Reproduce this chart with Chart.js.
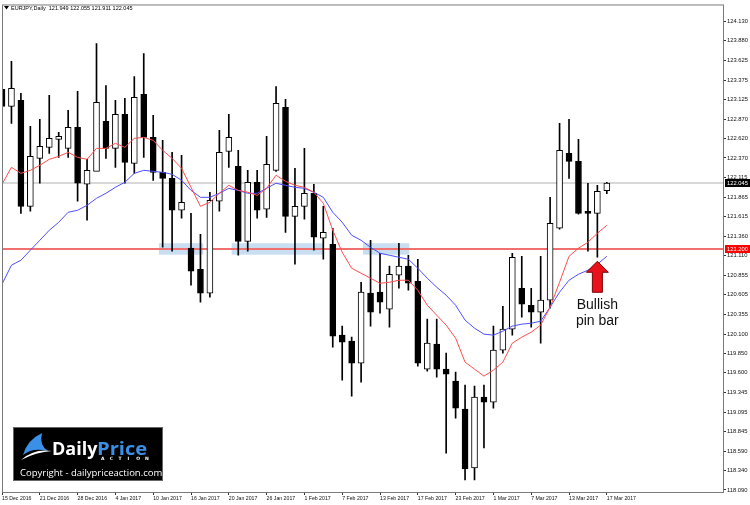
<!DOCTYPE html>
<html>
<head>
<meta charset="utf-8">
<script src="https://cdn.jsdelivr.net/npm/chart.js@4.4.1/dist/chart.umd.min.js"></script>
<style>
  html, body { margin: 0; padding: 0; background: #fff; }
</style>
</head>
<body>
<canvas id="js--chart" width="750" height="505"></canvas>
<script>
// EURJPY daily candles, 15 Dec 2016 - 17 Mar 2017
const dates = [
  "15 Dec 2016", "16 Dec 2016", "19 Dec 2016", "20 Dec 2016", "21 Dec 2016", "22 Dec 2016", "23 Dec 2016",
  "27 Dec 2016", "28 Dec 2016", "29 Dec 2016", "30 Dec 2016",
  "3 Jan 2017", "4 Jan 2017", "5 Jan 2017", "6 Jan 2017", "9 Jan 2017", "10 Jan 2017", "11 Jan 2017",
  "12 Jan 2017", "13 Jan 2017", "16 Jan 2017", "17 Jan 2017", "18 Jan 2017", "19 Jan 2017", "20 Jan 2017",
  "23 Jan 2017", "24 Jan 2017", "25 Jan 2017", "26 Jan 2017", "27 Jan 2017", "30 Jan 2017", "31 Jan 2017",
  "1 Feb 2017", "2 Feb 2017", "3 Feb 2017", "6 Feb 2017", "7 Feb 2017", "8 Feb 2017", "9 Feb 2017",
  "10 Feb 2017", "13 Feb 2017", "14 Feb 2017", "15 Feb 2017", "16 Feb 2017", "17 Feb 2017", "20 Feb 2017",
  "21 Feb 2017", "22 Feb 2017", "23 Feb 2017", "24 Feb 2017", "27 Feb 2017", "28 Feb 2017",
  "1 Mar 2017", "2 Mar 2017", "3 Mar 2017", "6 Mar 2017", "7 Mar 2017", "8 Mar 2017", "9 Mar 2017",
  "10 Mar 2017", "13 Mar 2017", "14 Mar 2017", "15 Mar 2017", "16 Mar 2017", "17 Mar 2017"
];

const opens = [
  123.254, 123.035, 123.112, 121.747, 122.366, 122.507, 122.610, 122.494, 122.765, 122.031,
  122.198, 122.842, 122.494, 122.932, 122.301, 123.190, 122.636, 122.185, 122.108, 121.696,
  121.207, 120.936, 120.627, 121.812, 122.456, 122.263, 121.296, 122.057, 121.709, 122.211,
  123.022, 121.618, 121.747, 121.915, 121.335, 121.258, 120.086, 120.009, 119.725, 120.627,
  120.640, 120.421, 120.859, 120.975, 120.781, 119.648, 119.970, 119.648, 119.493, 119.133,
  118.373, 119.287, 119.223, 119.893, 120.163, 120.691, 120.472, 120.382, 120.537, 121.464,
  122.430, 122.327, 121.683, 121.657, 121.949
];
const highs = [
  124.079, 123.615, 123.203, 122.778, 122.868, 123.177, 122.700, 122.984, 123.228, 122.353,
  123.846, 123.305, 123.112, 123.138, 123.421, 123.717, 122.919, 122.597, 122.443, 122.404,
  121.657, 121.387, 121.928, 122.726, 122.932, 122.469, 122.211, 122.211, 122.649, 123.292,
  123.125, 122.237, 122.494, 122.031, 121.747, 121.464, 120.202, 120.060, 120.768, 121.309,
  121.142, 120.975, 121.271, 121.116, 121.065, 120.292, 120.292, 119.854, 119.609, 119.442,
  119.429, 119.442, 120.202, 120.459, 121.142, 121.103, 120.691, 121.103, 121.863, 122.816,
  122.868, 122.610, 122.044, 122.018, 122.055
];
const lows = [
  122.559, 122.816, 121.657, 121.683, 122.044, 122.430, 122.378, 122.378, 121.812, 121.567,
  122.237, 122.366, 122.250, 122.044, 122.172, 122.378, 122.082, 121.219, 121.168, 121.593,
  120.730, 120.511, 120.575, 121.683, 122.250, 121.116, 121.168, 121.593, 121.605, 122.198,
  121.412, 121.000, 121.580, 121.181, 121.065, 119.931, 119.506, 119.300, 119.481, 120.202,
  120.369, 120.189, 120.691, 120.665, 119.687, 119.622, 119.545, 118.566, 119.017, 118.219,
  118.219, 118.631, 119.146, 119.854, 120.086, 120.318, 120.189, 119.983, 120.434, 121.451,
  122.108, 121.645, 121.168, 121.090, 121.911
];
const closes = [
  123.035, 123.267, 121.747, 122.391, 122.520, 122.623, 122.649, 122.765, 122.044, 122.211,
  123.087, 122.494, 122.932, 122.314, 123.151, 122.636, 122.185, 122.108, 121.696, 121.799,
  120.910, 120.627, 121.825, 122.443, 122.636, 121.296, 122.057, 121.696, 122.288, 123.074,
  121.618, 121.747, 121.915, 121.348, 121.412, 120.073, 119.996, 119.725, 120.640, 120.382,
  120.511, 120.871, 120.975, 120.755, 119.725, 119.983, 119.648, 119.584, 119.146, 118.360,
  119.287, 119.223, 119.893, 120.163, 121.090, 120.485, 120.382, 120.537, 121.528, 122.469,
  122.327, 121.657, 121.657, 121.940, 122.045
];

// moving averages (red = fast, blue = slow)
const redMa = [
  122.031, 122.250, 122.172, 122.211, 122.276, 122.353, 122.391, 122.443, 122.378, 122.353,
  122.494, 122.494, 122.559, 122.507, 122.623, 122.636, 122.597, 122.469, 122.366, 122.237,
  121.992, 121.747, 121.799, 121.915, 122.018, 121.953, 121.928, 121.889, 121.979, 122.147,
  122.069, 122.018, 121.992, 121.928, 121.786, 121.438, 121.155, 120.949, 120.884, 120.820,
  120.755, 120.768, 120.794, 120.794, 120.665, 120.472, 120.343, 120.215, 120.047, 119.738,
  119.648, 119.558, 119.635, 119.738, 119.983, 120.060, 120.124, 120.215, 120.446, 120.768,
  121.103, 121.207, 121.284, 121.399, 121.502
];
const blueMa = [
  120.743, 120.988, 121.052, 121.181, 121.309, 121.438, 121.541, 121.670, 121.696, 121.760,
  121.850, 121.915, 121.992, 122.057, 122.172, 122.211, 122.198, 122.185, 122.160, 122.082,
  121.953, 121.863, 121.863, 121.915, 121.979, 121.953, 121.915, 121.915, 121.979, 122.044,
  122.018, 121.992, 121.979, 121.928, 121.863, 121.670, 121.541, 121.374, 121.309, 121.219,
  121.142, 121.116, 121.090, 121.065, 120.949, 120.820, 120.704, 120.601, 120.472, 120.279,
  120.176, 120.099, 120.086, 120.137, 120.202, 120.228, 120.240, 120.266, 120.446, 120.640,
  120.794, 120.871, 120.923, 121.000, 121.103
];

const priceTicks = [
  124.130, 123.880, 123.625, 123.375, 123.125, 122.870, 122.620, 122.370, 122.115,
  121.865, 121.615, 121.360, 121.110, 120.855, 120.605, 120.355, 120.100, 119.850,
  119.600, 119.345, 119.095, 118.845, 118.590, 118.340, 118.090
];

// support zones: [from bar, to bar], price band
const zoneBars = [[16.6, 21.3], [24.3, 34.0], [38.2, 43.1]];
const zoneHigh = 121.271;
const zoneLow = 121.123;
const lastPrice = 122.045;
const levelPrice = 121.200;
const pinBar = 63;

const candleWicks = dates.map(function(d, i){ return {x: i, y: [lows[i], highs[i]]}; });
const candleBodies = dates.map(function(d, i){ return {x: i, y: [opens[i], closes[i]]}; });
const bodyColors = dates.map(function(d, i){ return closes[i] >= opens[i] ? "#ffffff" : "#000000"; });

const mtStuff = {
  id: "mtStuff",
  beforeDatasetsDraw: function(chart){
    const ctx = chart.ctx;
    const xs = chart.scales.x, ys = chart.scales.y;
    const a = chart.chartArea;
    ctx.save();
    ctx.beginPath();
    ctx.rect(a.left, a.top, a.right - a.left, a.bottom - a.top);
    ctx.clip();
    // blue zones
    ctx.fillStyle = "#c9dff1";
    zoneBars.forEach(function(z){
      const x1 = xs.getPixelForValue(z[0]), x2 = xs.getPixelForValue(z[1]);
      const y1 = ys.getPixelForValue(zoneHigh), y2 = ys.getPixelForValue(zoneLow);
      ctx.fillRect(x1, y1, x2 - x1, y2 - y1);
    });
    // last price line
    let y = Math.round(ys.getPixelForValue(lastPrice));
    ctx.fillStyle = "#d8d8d8";
    ctx.fillRect(a.left, y - 1, a.right - a.left, 2);
    // level line
    y = Math.round(ys.getPixelForValue(levelPrice));
    ctx.fillStyle = "#f07070";
    ctx.fillRect(a.left, y - 1, a.right - a.left, 2);
    ctx.restore();
  },
  afterDraw: function(chart){
    const ctx = chart.ctx;
    const xs = chart.scales.x, ys = chart.scales.y;
    const a = chart.chartArea;
    ctx.save();
    // frame
    ctx.strokeStyle = "#7a7a7a";
    ctx.lineWidth = 1;
    ctx.strokeRect(a.left + 0.5, a.top + 0.5, a.right - a.left - 1, a.bottom - a.top);

    // header
    ctx.fillStyle = "#000";
    ctx.beginPath();
    ctx.moveTo(4, 6); ctx.lineTo(9, 6); ctx.lineTo(6.5, 9.5); ctx.closePath();
    ctx.fill();
    ctx.font = "5.5px 'Liberation Sans'";
    ctx.textBaseline = "middle";
    ctx.textAlign = "left";
    ctx.fillText("EURJPY,Daily  121.949 122.055 121.911 122.045", 11, 8);

    // price tags
    const tags = [[lastPrice, "#000000"], [levelPrice, "#ff0000"]];
    tags.forEach(function(t){
      const y = Math.round(ys.getPixelForValue(t[0]));
      ctx.fillStyle = t[1];
      ctx.fillRect(a.right + 1, y - 4, 26, 8);
      ctx.fillStyle = "#fff";
      ctx.font = "5.8px 'Liberation Sans'";
      ctx.fillText(t[0].toFixed(3), a.right + 3, y + 0.5);
    });

    // arrow under pin bar
    const ax = xs.getPixelForValue(pinBar);
    const tip = ys.getPixelForValue(lows[pinBar]) + 4;
    ctx.fillStyle = "#e8121c";
    ctx.strokeStyle = "#7a0000";
    ctx.lineWidth = 1;
    ctx.beginPath();
    ctx.moveTo(ax, tip);
    ctx.lineTo(ax + 11, tip + 11);
    ctx.lineTo(ax + 5, tip + 11);
    ctx.lineTo(ax + 5, tip + 31);
    ctx.lineTo(ax - 5, tip + 31);
    ctx.lineTo(ax - 5, tip + 11);
    ctx.lineTo(ax - 11, tip + 11);
    ctx.closePath();
    ctx.fill();
    ctx.stroke();
    ctx.fillStyle = "#111";
    ctx.font = "14px 'Liberation Sans'";
    ctx.textAlign = "center";
    ctx.textBaseline = "alphabetic";
    ctx.fillText("Bullish", ax, tip + 48);
    ctx.fillText("pin bar", ax, tip + 64);

    // logo
    ctx.fillStyle = "#000";
    ctx.fillRect(13, 427, 150, 54);
    ctx.strokeStyle = "#666";
    ctx.strokeRect(13.5, 427.5, 149, 53);
    ctx.fillStyle = "#3a8fe6";
    ctx.beginPath();
    ctx.moveTo(23, 455);
    ctx.quadraticCurveTo(27, 440, 42, 433);
    ctx.quadraticCurveTo(39, 445, 48, 451);
    ctx.quadraticCurveTo(33, 447, 23, 455);
    ctx.fill();
    ctx.fillStyle = "#fff";
    ctx.beginPath();
    ctx.moveTo(21, 460);
    ctx.quadraticCurveTo(34, 448, 52, 451);
    ctx.quadraticCurveTo(36, 452, 21, 460);
    ctx.fill();
    ctx.textAlign = "left";
    ctx.font = "bold 18px 'Open Sans'";
    ctx.fillStyle = "#fff";
    ctx.fillText("Daily", 52, 455);
    ctx.fillStyle = "#3a8fe6";
    ctx.save();
    ctx.translate(97, 455);
    ctx.scale(1.12, 1);
    ctx.fillText("Price", 0, 0);
    ctx.restore();
    ctx.fillStyle = "#fff";
    ctx.font = "bold 4.5px 'DejaVu Sans'";
    const act = "ACTION";
    for (let k = 0; k < act.length; k++) {
      ctx.fillText(act[k], 101 + k * 8.8, 460);
    }
    ctx.font = "9.5px 'Open Sans'";
    ctx.fillText("Copyright - dailypriceaction.com", 20, 476);
    ctx.restore();
  }
};

const config = {
  type: "bar",
  data: {
    datasets: [
      {
        type: "line",
        label: "red ma",
        data: redMa.map(function(v, i){ return {x: i, y: v}; }),
        borderColor: "#ff4d4d",
        borderWidth: 1,
        pointRadius: 0,
        tension: 0,
        order: 1
      },
      {
        type: "line",
        label: "blue ma",
        data: blueMa.map(function(v, i){ return {x: i, y: v}; }),
        borderColor: "#4f4fff",
        borderWidth: 1,
        pointRadius: 0,
        tension: 0,
        order: 1
      },
      {
        label: "bodies",
        data: candleBodies,
        backgroundColor: bodyColors,
        borderColor: "#000",
        borderWidth: 1,
        borderSkipped: false,
        barThickness: 6,
        grouped: false,
        order: 2
      },
      {
        label: "wicks",
        data: candleWicks,
        backgroundColor: "#000",
        borderWidth: 0,
        barThickness: 1,
        grouped: false,
        order: 3
      }
    ]
  },
  options: {
    responsive: false,
    animation: false,
    devicePixelRatio: 1,
    layout: { padding: { left: 2, top: 4, right: 0, bottom: 0 } },
    plugins: { legend: { display: false }, tooltip: { enabled: false } },
    scales: {
      x: {
        type: "linear",
        min: 0,
        max: 76.4,
        offset: false,
        position: "bottom",
        afterBuildTicks: function(scale){
          scale.ticks = dates.map(function(d, i){ return i; })
            .filter(function(i){ return i % 4 === 0; })
            .map(function(i){ return {value: i}; });
        },
        afterFit: function(scale){ scale.height = 13; },
        ticks: {
          callback: function(v){ return dates[v] || ""; },
          align: "start",
          maxRotation: 0,
          autoSkip: false,
          padding: 0,
          color: "#111",
          font: { family: "'Liberation Sans'", size: 5.2 }
        },
        grid: { drawOnChartArea: false, offset: false, tickLength: 3, color: "#333" },
        border: { display: false }
      },
      y: {
        position: "right",
        min: 118.064,
        max: 124.349,
        beginAtZero: false,
        afterBuildTicks: function(scale){
          scale.ticks = priceTicks.map(function(v){ return {value: v}; });
        },
        afterFit: function(scale){ scale.width = 26; },
        ticks: {
          callback: function(v){ return v.toFixed(3); },
          padding: 1,
          color: "#111",
          font: { family: "'Liberation Sans'", size: 5.8 }
        },
        grid: { drawOnChartArea: false, tickLength: 2, color: "#333" },
        border: { display: false }
      }
    }
  },
  plugins: [mtStuff]
};

const chart1 = new Chart(document.getElementById("js--chart"), config);
</script>
</body>
</html>
